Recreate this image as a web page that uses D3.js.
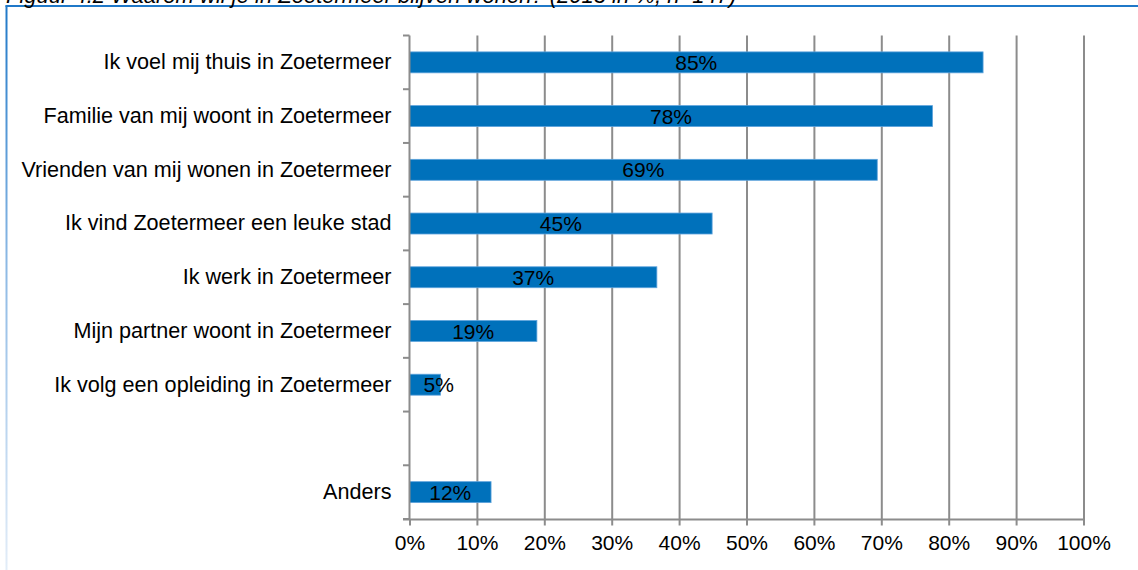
<!DOCTYPE html>
<html><head><meta charset="utf-8">
<script src="https://cdn.jsdelivr.net/npm/d3@7"></script>
<style>html,body{margin:0;padding:0;background:#fff;}svg{display:block;font-family:"Liberation Sans",Arial,sans-serif;}</style>
</head><body>
<svg id="c" width="1138" height="570"></svg>
<script>
const title = "Figuur 4.2 Waarom wil je in Zoetermeer blijven wonen? (2013 in %, n=147)";
const categories = [
  "Ik voel mij thuis in Zoetermeer",
  "Familie van mij woont in Zoetermeer",
  "Vrienden van mij wonen in Zoetermeer",
  "Ik vind Zoetermeer een leuke stad",
  "Ik werk in Zoetermeer",
  "Mijn partner woont in Zoetermeer",
  "Ik volg een opleiding in Zoetermeer",
  "",
  "Anders"
];
const values = [85.1, 77.6, 69.4, 44.9, 36.7, 18.9, 4.6, null, 12.1];
const valueLabels = ["85%", "78%", "69%", "45%", "37%", "19%", "5%", "", "12%"];
const xTicks = [0, 10, 20, 30, 40, 50, 60, 70, 80, 90, 100];

const svg = d3.select("#c");
const pL = 409.5, pR = 1083.5, pT = 35.5, pB = 519;
const slotKeys = categories.map((c, i) => i);
const x = d3.scaleLinear().domain([0, 100]).range([pL, pR]);
const y = d3.scaleBand().domain(slotKeys).range([pT, pB]).paddingInner(0.61).paddingOuter(0.305);
const ySlot = d3.scaleBand().domain(slotKeys).range([pT, pB]).padding(0);

// frame
const defs = svg.append("defs");
const grad = defs.append("linearGradient").attr("id", "fg").attr("x1", 0).attr("y1", 0).attr("x2", 0).attr("y2", 1);
grad.append("stop").attr("offset", "0%").attr("stop-color", "#1f78c8");
grad.append("stop").attr("offset", "45%").attr("stop-color", "#8bb8e4");
grad.append("stop").attr("offset", "100%").attr("stop-color", "#e3edf8");
svg.append("rect").attr("x", 5.5).attr("y", 5.5).attr("width", 2).attr("height", 565).attr("fill", "url(#fg)");
svg.append("line").attr("x1", 5.5).attr("x2", 1138).attr("y1", 6).attr("y2", 6).attr("stroke", "#1f78c8").attr("stroke-width", 2);

// title (cut off at top, as in the reference)
svg.append("text").attr("x", 6).attr("y", 3).attr("font-size", 22).attr("font-style", "italic").attr("fill", "#000").text(title);

// gridlines via axis
const grid = svg.append("g").attr("transform", `translate(0,${pB})`)
  .call(d3.axisBottom(x).tickValues(xTicks.slice(1)).tickSize(-(pB - pT)).tickFormat(""));
grid.select(".domain").remove();
grid.selectAll("line").attr("stroke", "#8c8c8c").attr("stroke-width", 2);

// bars
svg.append("g").selectAll("rect").data(values.map((v, i) => ({v, i})).filter(d => d.v != null)).join("rect")
  .attr("x", x(0)).attr("y", d => y(d.i)).attr("width", d => x(d.v) - x(0)).attr("height", y.bandwidth())
  .attr("fill", "#0071bb").attr("stroke", "#5ea3dc").attr("stroke-width", 0.8);

// x axis
const xa = svg.append("g").attr("transform", `translate(0,${pB})`)
  .call(d3.axisBottom(x).tickValues(xTicks).tickSize(6.5).tickPadding(10).tickFormat(d => d + "%"));
xa.select(".domain").attr("d", `M${pL - 6.5},0.5H${pR}`).attr("stroke", "#8c8c8c").attr("stroke-width", 2);
xa.selectAll("line").attr("stroke", "#8c8c8c").attr("stroke-width", 2);
xa.selectAll("text").attr("font-size", 21).attr("fill", "#000").attr("font-family", "Liberation Sans, Arial, sans-serif");

// y axis
const ya = svg.append("g").attr("transform", `translate(${pL},0)`)
  .call(d3.axisLeft(y).tickSize(0).tickPadding(18).tickFormat(i => categories[i]));
ya.select(".domain").attr("d", `M0,${pT}V${pB}`).attr("stroke", "#8c8c8c").attr("stroke-width", 2);
ya.selectAll("text").attr("font-size", 21.6).attr("fill", "#000").attr("font-family", "Liberation Sans, Arial, sans-serif");
ya.append("g").selectAll("line").data(d3.range(categories.length + 1)).join("line")
  .attr("x1", -6.5).attr("x2", 0)
  .attr("y1", k => pT + k * ySlot.step()).attr("y2", k => pT + k * ySlot.step())
  .attr("stroke", "#8c8c8c").attr("stroke-width", 2);

// value labels
const lbl = svg.append("g").selectAll("text").data(values.map((v, i) => ({v, i, t: valueLabels[i]})).filter(d => d.v != null)).join("text")
  .attr("font-size", 21).attr("fill", "#000").attr("text-anchor", "middle")
  .attr("y", d => y(d.i) + y.bandwidth() / 2).attr("dy", "0.36em").text(d => d.t);
lbl.each(function(d) {
  const w = this.getComputedTextLength();
  const cx = Math.max((x(0) + x(d.v)) / 2, x(0) + w / 2 + 14);
  d3.select(this).attr("x", cx);
});
</script>
</body></html>
